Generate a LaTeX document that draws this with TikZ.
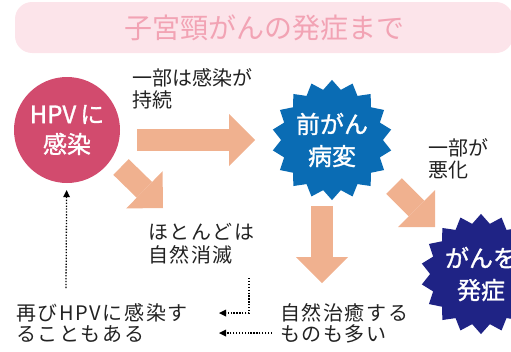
\documentclass[tikz,border=0pt]{standalone}
\usepackage{fontspec}
\setmainfont{Noto Sans CJK JP}
\usepackage{tikz}
\usetikzlibrary{arrows.meta,shapes.geometric}

\definecolor{titlebg}{HTML}{FCE4EA}
\definecolor{titlefg}{HTML}{F2A3B4}
\definecolor{hpvred}{HTML}{D24B6E}
\definecolor{preblue}{HTML}{0A6CB4}
\definecolor{cancernavy}{HTML}{1F2385}
\definecolor{peach}{HTML}{F0B18F}
\definecolor{textgray}{HTML}{222222}

\tikzset{
	remark/.style = { text = textgray, align = left, anchor = west, inner sep = 0pt,
		font = \fontsize{20pt}{22pt}\selectfont },
	spaced/.style = { font = \fontsize{20pt}{#1}\selectfont\addfontfeatures{LetterSpace=8} },
	spaced/.default = 21pt,
	burst/.style = { star, star points = 18, star point ratio = 1.18, minimum size = 118pt,
		inner sep = 0pt, text = white, align = center,
		font = \fontsize{24pt}{32pt}\selectfont\addfontfeatures{FakeBold=1.2} },
	blockarrow/.style = { draw = peach, line width = 22pt,
		-{Triangle[width = 52pt, length = 26pt, line width = 0pt]} },
	dotarrow/.style = { draw = black, line width = 1.3pt, dash pattern = on 1.3pt off 1.6pt,
		-{Triangle[width = 7pt, length = 7pt, line width = 0pt]} }
}

\begin{document}
\begin{tikzpicture}[ x = 1pt, y = -1pt ]
	\useasboundingbox (0,0) rectangle (511,351);
	\clip (0,0) rectangle (511,351);

	\node [ fill = titlebg, rounded corners = 17pt, minimum width = 498pt, minimum height = 51pt,
		text = titlefg, font = \fontsize{28pt}{30pt}\selectfont ] (0) at (264,27.5)
		{ 子宮頸がんの発症まで };

	\node [ circle, fill = hpvred, minimum size = 106pt, inner sep = 0pt, text = white,
		align = center, font = \fontsize{24pt}{30pt}\selectfont\addfontfeatures{FakeBold=1.2} ] (1) at (67,130)
		{ HPV\,に\\感染 };
	\node [ burst, fill = preblue ] (2) at (332,140)
		{ 前がん\\病変 };
	\node [ burst, fill = cancernavy ] (3) at (481,274)
		{ がんを\\発症 };

	\node [ remark ] (4) at (132,89)
		{ 一部は感染が\\持続 };
	\node [ remark ] (5) at (428,159)
		{ 一部が\\悪化 };
	\node [ remark, spaced = 23pt ] (6) at (148,244)
		{ ほとんどは\\自然消滅 };
	\node [ remark, spaced ] (7) at (16,323)
		{ 再びHPVに感染す\\ることもある };
	\node [ remark, spaced ] (8) at (280,323)
		{ 自然治癒する\\ものも多い };

	\coordinate (a) at (137,140);
	\coordinate (b) at (255,140);
	\coordinate (c) at (121,167);
	\coordinate (d) at (163,208);
	\coordinate (e) at (322,206);
	\coordinate (f) at (322,283);
	\coordinate (g) at (394,186);
	\coordinate (h) at (435,227);
	\draw [ blockarrow ] (a) to (b);
	\draw [ blockarrow ] (c) to (d);
	\draw [ blockarrow ] (e) to (f);
	\draw [ blockarrow ] (g) to (h);

	\coordinate (p) at (249,278);
	\coordinate (q) at (219,313);
	\coordinate (r) at (272,333);
	\coordinate (s) at (219,333);
	\coordinate (u) at (66,288);
	\draw [ dotarrow ] (p) |- (q);
	\draw [ dotarrow ] (r) to (s);
	\draw [ dotarrow, shorten > = 7pt ] (u) to (1);
\end{tikzpicture}
\end{document}
